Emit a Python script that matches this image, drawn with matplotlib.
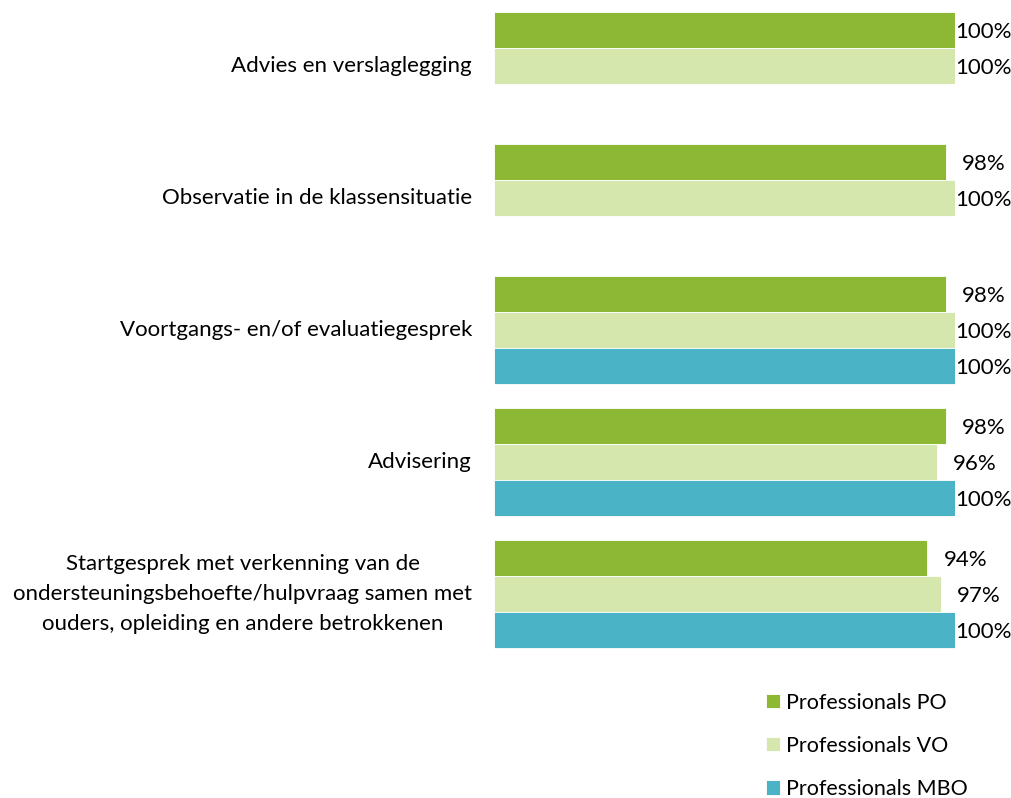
import matplotlib
matplotlib.use("Agg")
import matplotlib.pyplot as plt
import numpy as np

plt.rcParams['font.family'] = ['Lato', 'DejaVu Sans']

# Data (top to bottom)
categories = [
    "Advies en verslaglegging",
    "Observatie in de klassensituatie",
    "Voortgangs- en/of evaluatiegesprek",
    "Advisering",
    "Startgesprek met verkenning van de\nondersteuningsbehoefte/hulpvraag samen met\nouders, opleiding en andere betrokkenen",
]
series = ["Professionals PO", "Professionals VO", "Professionals MBO"]
po = [100, 98, 98, 98, 94]
vo = [100, 100, 100, 96, 97]
mbo = [None, None, 100, 100, 100]
colors = ["#8CB833", "#D5E7AD", "#4AB4C6"]

W, H = 1011, 798
fig = plt.figure(figsize=(W / 100, H / 100), dpi=100)

# axes: x 0..100 spans px 494..955, full height; group i centered at px 66+132*i
ax = fig.add_axes([494 / W, 0, 461 / W, 1])
ax.set_xlim(0, 100)
ax.set_ylim(H / 132 - 0.5, -0.5)
ax.axis('off')

bar_h = 36 / 132
fs = 16
y = np.arange(len(categories))
for k, (vals, col, name) in enumerate(zip([po, vo, mbo], colors, series)):
    off = (k - 1) * bar_h
    for i, v in enumerate(vals):
        if v is None:
            continue
        ax.barh(y[i] + off, v, height=bar_h, color=col, edgecolor='white',
                linewidth=0.6, label=name if i == 2 else None)
        # Excel-style label: small gap after bar, kept inside the chart for 100%
        lx = v + 3.5 if v < 100 else v
        ax.text(lx, y[i] + off + 0.012, f"{v}%", ha='left', va='center',
                fontsize=fs, color='#000000')

for i, cat in enumerate(categories):
    ax.text(-22 / 4.61, y[i], cat, ha='right', va='center', multialignment='center',
            fontsize=fs, color='#000000', linespacing=1.6)

handles, labels = ax.get_legend_handles_labels()
fig.legend(handles, labels, loc='upper left', bbox_to_anchor=(757 / W, 1 - 684 / H),
           frameon=False, fontsize=15.5, handlelength=0.65, handleheight=0.65,
           handletextpad=0.3, labelspacing=1.08, borderaxespad=0)

fig.savefig("out.png", dpi=100, facecolor='white')
